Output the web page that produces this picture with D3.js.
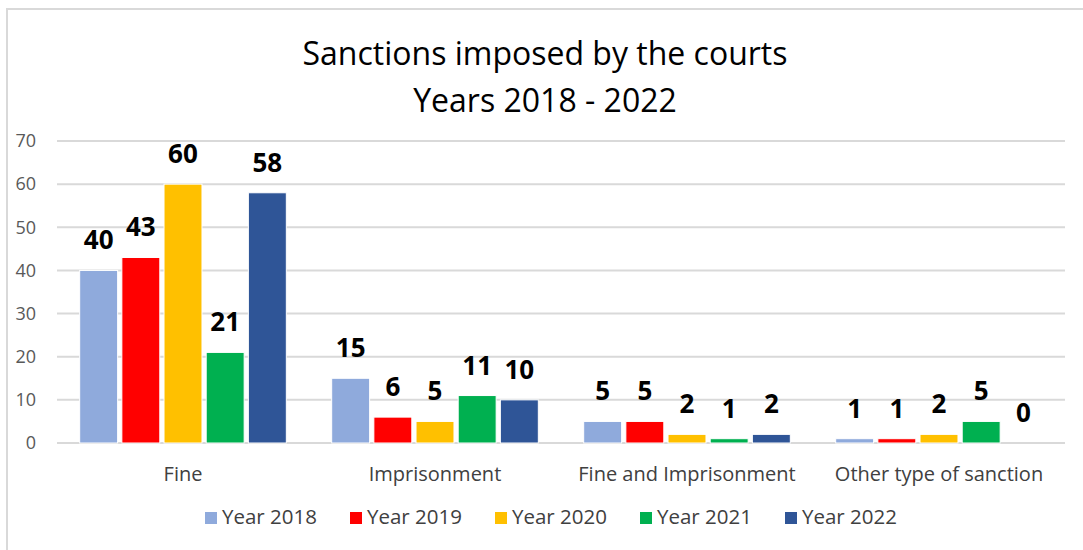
<!DOCTYPE html>
<html>
<head>
<meta charset="utf-8">
<script src="https://cdn.jsdelivr.net/npm/d3@7"></script>
<style>
  body { margin: 0; background: #fff; }
  svg { display: block; font-family: "Open Sans", Lato, sans-serif; }
</style>
</head>
<body>
<svg id="chart" width="1083" height="550"></svg>
<script>
const categories = ['Fine', 'Imprisonment', 'Fine and Imprisonment', 'Other type of sanction'];
const years = ['Year 2018', 'Year 2019', 'Year 2020', 'Year 2021', 'Year 2022'];
const year2018 = [40, 15, 5, 1];
const year2019 = [43, 6, 5, 1];
const year2020 = [60, 5, 2, 2];
const year2021 = [21, 11, 1, 5];
const year2022 = [58, 10, 2, 0];
const yTicks = [0, 10, 20, 30, 40, 50, 60, 70];
const colors = ['#8faadc', '#ff0000', '#ffc000', '#00b050', '#2f5597'];

const series = [year2018, year2019, year2020, year2021, year2022];
const data = categories.map((c, i) => ({
  name: c,
  values: years.map((y, j) => ({year: y, value: series[j][i]}))
}));

const width = 1083;
const margin = {top: 141, right: 18, bottom: 107, left: 57};
const height = 550;

const svg = d3.select('#chart');

// frame (only top and left edges show)
svg.append('line').attr('x1', 6).attr('x2', width).attr('y1', 9).attr('y2', 9)
  .attr('stroke', '#d9d9d9').attr('stroke-width', 2);
svg.append('line').attr('x1', 7).attr('x2', 7).attr('y1', 8).attr('y2', height)
  .attr('stroke', '#d9d9d9').attr('stroke-width', 2);

// title
const title = svg.append('text')
  .attr('text-anchor', 'middle')
  .attr('fill', '#000')
  .attr('font-size', 32);
title.append('tspan').attr('x', 545).attr('y', 65).text('Sanctions imposed by the courts');
title.append('tspan').attr('x', 545).attr('y', 112).text('Years 2018 - 2022');

const x0 = d3.scaleBand()
  .domain(categories)
  .range([margin.left, width - margin.right])
  .paddingInner(0.18)
  .paddingOuter(0.09);

const x1 = d3.scaleBand()
  .domain(years)
  .range([0, x0.bandwidth()])
  .padding(0.1)
  .paddingOuter(0);

const y = d3.scaleLinear()
  .domain([0, 70])
  .range([height - margin.bottom, margin.top]);

// gridlines
svg.append('g')
  .selectAll('line')
  .data(yTicks)
  .join('line')
    .attr('x1', margin.left)
    .attr('x2', width - margin.right)
    .attr('y1', d => y(d))
    .attr('y2', d => y(d))
    .attr('stroke', '#d9d9d9')
    .attr('stroke-width', 2);

const yAxis = g => g
  .attr('transform', `translate(${margin.left - 21},0)`)
  .call(d3.axisLeft(y).tickValues(yTicks).tickSize(0).tickPadding(0))
  .call(g => g.select('.domain').remove())
  .call(g => g.selectAll('text')
    .attr('font-family', '"Open Sans", sans-serif')
    .attr('font-size', 18)
    .attr('fill', '#595959'));
svg.append('g').call(yAxis);

const xAxis = g => g
  .attr('transform', `translate(0,${height - margin.bottom})`)
  .call(d3.axisBottom(x0).tickSize(0).tickPadding(24))
  .call(g => g.select('.domain').remove())
  .call(g => g.selectAll('text')
    .attr('font-family', '"Open Sans", sans-serif')
    .attr('font-size', 20)
    .attr('fill', '#404040'));
svg.append('g').call(xAxis);

// bars
const groups = svg.append('g')
  .selectAll('g')
  .data(data)
  .join('g')
    .attr('transform', d => `translate(${x0(d.name)},0)`);

groups.selectAll('rect')
  .data(d => d.values)
  .join('rect')
    .attr('x', d => x1(d.year))
    .attr('y', d => y(d.value))
    .attr('width', x1.bandwidth())
    .attr('height', d => y(0) - y(d.value))
    .attr('fill', (d, i) => colors[i])
    .attr('stroke', '#fff')
    .attr('stroke-width', 1);

groups.selectAll('text')
  .data(d => d.values)
  .join('text')
    .attr('x', d => x1(d.year) + x1.bandwidth() / 2)
    .attr('y', d => y(d.value) - 21)
    .attr('text-anchor', 'middle')
    .attr('font-size', 26)
    .attr('font-weight', 'bold')
    .attr('fill', '#000')
    .text(d => d.value);

// legend
const legend = svg.append('g')
  .selectAll('g')
  .data(years)
  .join('g')
    .attr('transform', (d, i) => `translate(${205 + i * 145},512)`);

legend.append('rect')
  .attr('width', 12)
  .attr('height', 12)
  .attr('fill', (d, i) => colors[i]);

legend.append('text')
  .attr('x', 17)
  .attr('y', 12)
  .attr('font-size', 20.5)
  .attr('fill', '#404040')
  .text(d => d);
</script>
</body>
</html>
